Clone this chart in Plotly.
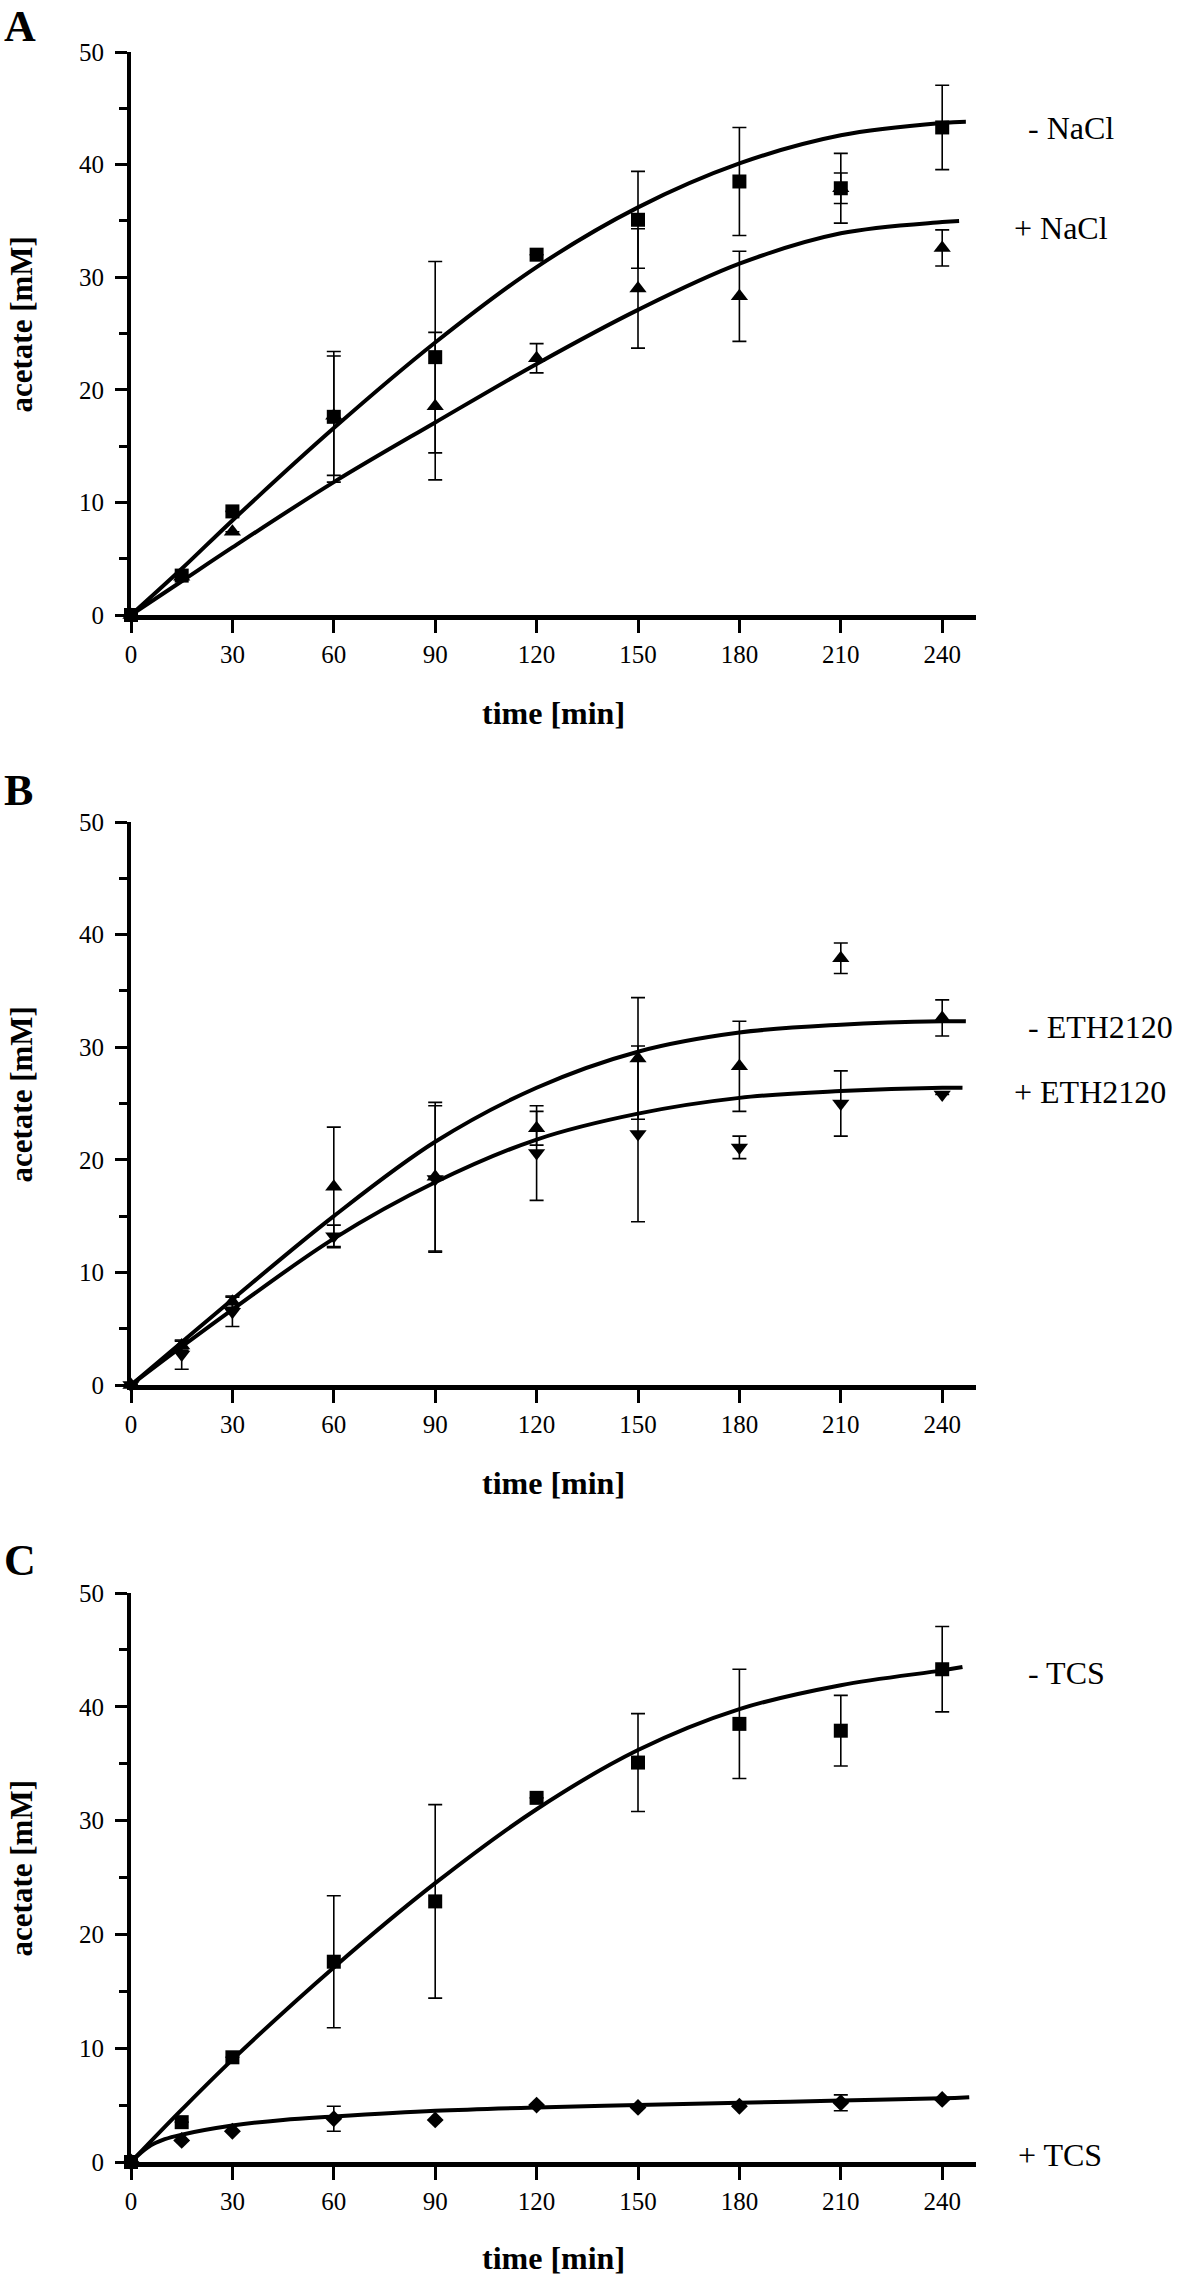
import plotly.graph_objects as go

# ---------------- data ----------------
time = [0, 15, 30, 60, 90, 120, 150, 180, 210, 240]

# Panel A
nacl_minus = [0, 3.5, 9.2, 17.6, 22.9, 32.0, 35.1, 38.5, 37.9, 43.3]
nacl_minus_err = [None, None, None, 5.8, 8.5, None, 4.3, 4.8, 3.1, 3.75]
nacl_plus = [0, 3.4, 7.4, 17.7, 18.55, 22.8, 29.0, 28.3, 37.9, 32.6]
nacl_plus_err = [None, None, None, 5.3, 6.55, 1.3, 5.3, 4.0, 1.35, 1.6]

fit_t_nacl_minus = [0, 15, 30, 60, 90, 120, 150, 180, 210, 240, 247]
fit_nacl_minus = [0, 4.1, 8.4, 16.6, 24.2, 30.9, 36.2, 40.1, 42.6, 43.7, 43.8]
fit_t_nacl_plus = [0, 15, 30, 60, 90, 120, 150, 180, 210, 240, 245]
fit_nacl_plus = [0, 3.0, 6.0, 11.8, 17.1, 22.3, 27.1, 31.2, 33.9, 34.9, 35.0]

# Panel B
eth_minus = [0, 3.5, 7.4, 17.6, 18.5, 22.8, 29.0, 28.3, 37.9, 32.6]
eth_minus_err = [None, 0.4, 0.5, 5.3, 6.6, 1.5, 5.4, 4.0, 1.35, 1.6]
eth_plus = [0, 2.7, 6.5, 13.2, 18.3, 20.6, 22.3, 21.1, 25.0, 25.8]
eth_plus_err = [None, 1.3, 1.3, 1.0, 6.5, 4.2, 7.8, 1.0, 2.9, None]

fit_t_eth_minus = [0, 15, 30, 60, 90, 120, 150, 180, 210, 240, 247]
fit_eth_minus = [0, 3.8, 7.6, 15.0, 21.6, 26.4, 29.6, 31.3, 32.0, 32.3, 32.3]
fit_t_eth_plus = [0, 15, 30, 60, 90, 120, 150, 180, 210, 240, 246]
fit_eth_plus = [0, 3.4, 6.7, 13.0, 18.0, 21.8, 24.1, 25.5, 26.1, 26.4, 26.4]

# Panel C
tcs_minus = [0, 3.5, 9.2, 17.6, 22.9, 32.0, 35.1, 38.5, 37.9, 43.3]
tcs_minus_err = [None, None, None, 5.8, 8.5, None, 4.3, 4.8, 3.1, 3.75]
tcs_plus = [0, 1.9, 2.7, 3.8, 3.7, 5.0, 4.8, 4.9, 5.2, 5.5]
tcs_plus_err = [None, None, None, 1.1, None, None, None, None, 0.7, None]

fit_t_tcs_minus = [0, 15, 30, 60, 90, 120, 150, 180, 210, 240, 246]
fit_tcs_minus = [0, 4.6, 9.0, 17.1, 24.5, 31.0, 36.2, 39.8, 41.9, 43.2, 43.5]
fit_t_tcs_plus = [0, 5, 10, 15, 30, 45, 60, 90, 120, 150, 180, 210, 240, 248]
fit_tcs_plus = [0, 1.3, 2.0, 2.4, 3.2, 3.7, 4.0, 4.5, 4.8, 5.0, 5.2, 5.4, 5.6, 5.7]

x_ticks = [0, 30, 60, 90, 120, 150, 180, 210, 240]
y_ticks = [0, 10, 20, 30, 40, 50]

panel_letters = ["A", "B", "C"]
labels = [("- NaCl", "+ NaCl"), ("- ETH2120", "+ ETH2120"), ("- TCS", "+ TCS")]
x_title = "time [min]"
y_title = "acetate [mM]"

# ---------------- layout geometry (page pixels) ----------------
W, H = 1200, 2280
FONT = "Liberation Serif, Times New Roman, serif"
x_left, x_right = 131, 976
panels_px = [(615, 52), (1385, 822), (2162, 1593)]  # (page y of 0, page y of 50)
letter_y = [26, 790, 1560]


def py(pix):
    return 1 - pix / H


def px(pix):
    return pix / W


fig = go.Figure()


def add_fit(t, v, ax):
    fig.add_trace(go.Scatter(x=t, y=v, mode="lines",
                             line=dict(color="black", width=4, shape="spline", smoothing=1.0),
                             xaxis="x" + ax, yaxis="y" + ax, showlegend=False, hoverinfo="skip",
                             cliponaxis=False))


def add_pts(v, err, symbol, size, ax):
    fig.add_trace(go.Scatter(x=time, y=v, mode="markers",
                             marker=dict(symbol=symbol, size=size, color="black", line=dict(width=0)),
                             error_y=dict(type="data", array=err, visible=True, color="black",
                                          thickness=1.6, width=7),
                             xaxis="x" + ax, yaxis="y" + ax, showlegend=False, cliponaxis=False))


# Panel A
add_fit(fit_t_nacl_minus, fit_nacl_minus, "")
add_fit(fit_t_nacl_plus, fit_nacl_plus, "")
add_pts(nacl_plus, nacl_plus_err, "triangle-up", 15, "")
add_pts(nacl_minus, nacl_minus_err, "square", 14, "")
# Panel B
add_fit(fit_t_eth_minus, fit_eth_minus, "2")
add_fit(fit_t_eth_plus, fit_eth_plus, "2")
add_pts(eth_minus, eth_minus_err, "triangle-up", 15, "2")
add_pts(eth_plus, eth_plus_err, "triangle-down", 15, "2")
# Panel C
add_fit(fit_t_tcs_minus, fit_tcs_minus, "3")
add_fit(fit_t_tcs_plus, fit_tcs_plus, "3")
add_pts(tcs_minus, tcs_minus_err, "square", 14, "3")
add_pts(tcs_plus, tcs_plus_err, "diamond", 13, "3")

layout = dict(width=W, height=H, margin=dict(l=0, r=0, t=0, b=0, autoexpand=False),
              paper_bgcolor="white", plot_bgcolor="white", showlegend=False)

annotations = []
for i, (y0, y50) in enumerate(panels_px):
    sfx = "" if i == 0 else str(i + 1)
    layout["xaxis" + sfx] = dict(
        domain=[px(x_left), px(x_right)], range=[0, 250], anchor="y" + sfx,
        tickmode="array", tickvals=x_ticks, ticktext=[str(t) for t in x_ticks],
        ticks="outside", ticklen=13, tickwidth=3, tickcolor="black",
        showline=True, linewidth=5, linecolor="black", showgrid=False, zeroline=False,
        tickfont=dict(family=FONT, size=25, color="black"), fixedrange=True)
    layout["yaxis" + sfx] = dict(
        domain=[py(y0), py(y50)], range=[0, 50], anchor="x" + sfx,
        tickmode="array", tickvals=y_ticks, ticktext=[str(t) for t in y_ticks],
        ticks="outside", ticklen=12, tickwidth=3, tickcolor="black",
        minor=dict(tickmode="linear", tick0=5, dtick=10, ticks="outside", ticklen=8,
                   tickwidth=3, tickcolor="black", showgrid=False),
        showline=True, linewidth=4, linecolor="black", showgrid=False, zeroline=False,
        ticklabelstandoff=6,
        tickfont=dict(family=FONT, size=25, color="black"), fixedrange=True)

    scale = (y0 - y50) / 50.0
    annotations.append(dict(text="<b>%s</b>" % panel_letters[i], xref="paper", yref="paper",
                            x=px(3), y=py(letter_y[i]), xanchor="left", yanchor="middle",
                            showarrow=False, borderpad=0,
                            font=dict(family=FONT, size=44, color="black")))
    annotations.append(dict(text="<b>%s</b>" % y_title, xref="paper", yref="paper", textangle=-90,
                            x=px(21), y=py(y0 - 25.8 * scale), xanchor="center", yanchor="middle",
                            showarrow=False, borderpad=0, font=dict(family=FONT, size=31, color="black")))
    annotations.append(dict(text="<b>%s</b>" % x_title, xref="paper", yref="paper",
                            x=px(553), y=py(min(y0 + 98, 2258)), xanchor="center", yanchor="middle",
                            showarrow=False, borderpad=0, font=dict(family=FONT, size=32, color="black")))

label_pos = [((1026, 128), (1012, 228)), ((1026, 1027), (1012, 1092)), ((1026, 1673), (1016, 2155))]
for (lab_m, lab_p), ((xm, ym), (xp, yp)) in zip(labels, label_pos):
    annotations.append(dict(text=lab_m, xref="paper", yref="paper", x=px(xm), y=py(ym),
                            xanchor="left", yanchor="middle", showarrow=False,
                            font=dict(family=FONT, size=32, color="black")))
    annotations.append(dict(text=lab_p, xref="paper", yref="paper", x=px(xp), y=py(yp),
                            xanchor="left", yanchor="middle", showarrow=False,
                            font=dict(family=FONT, size=32, color="black")))

layout["annotations"] = annotations
fig.update_layout(**layout)
# remove the default 8px page margin so the 1200x2280 figure fills the window exactly
fig.write_html("out.html", config={"displayModeBar": False, "staticPlot": True},
               post_script="document.body.style.margin='0';document.body.style.overflow='hidden';")
